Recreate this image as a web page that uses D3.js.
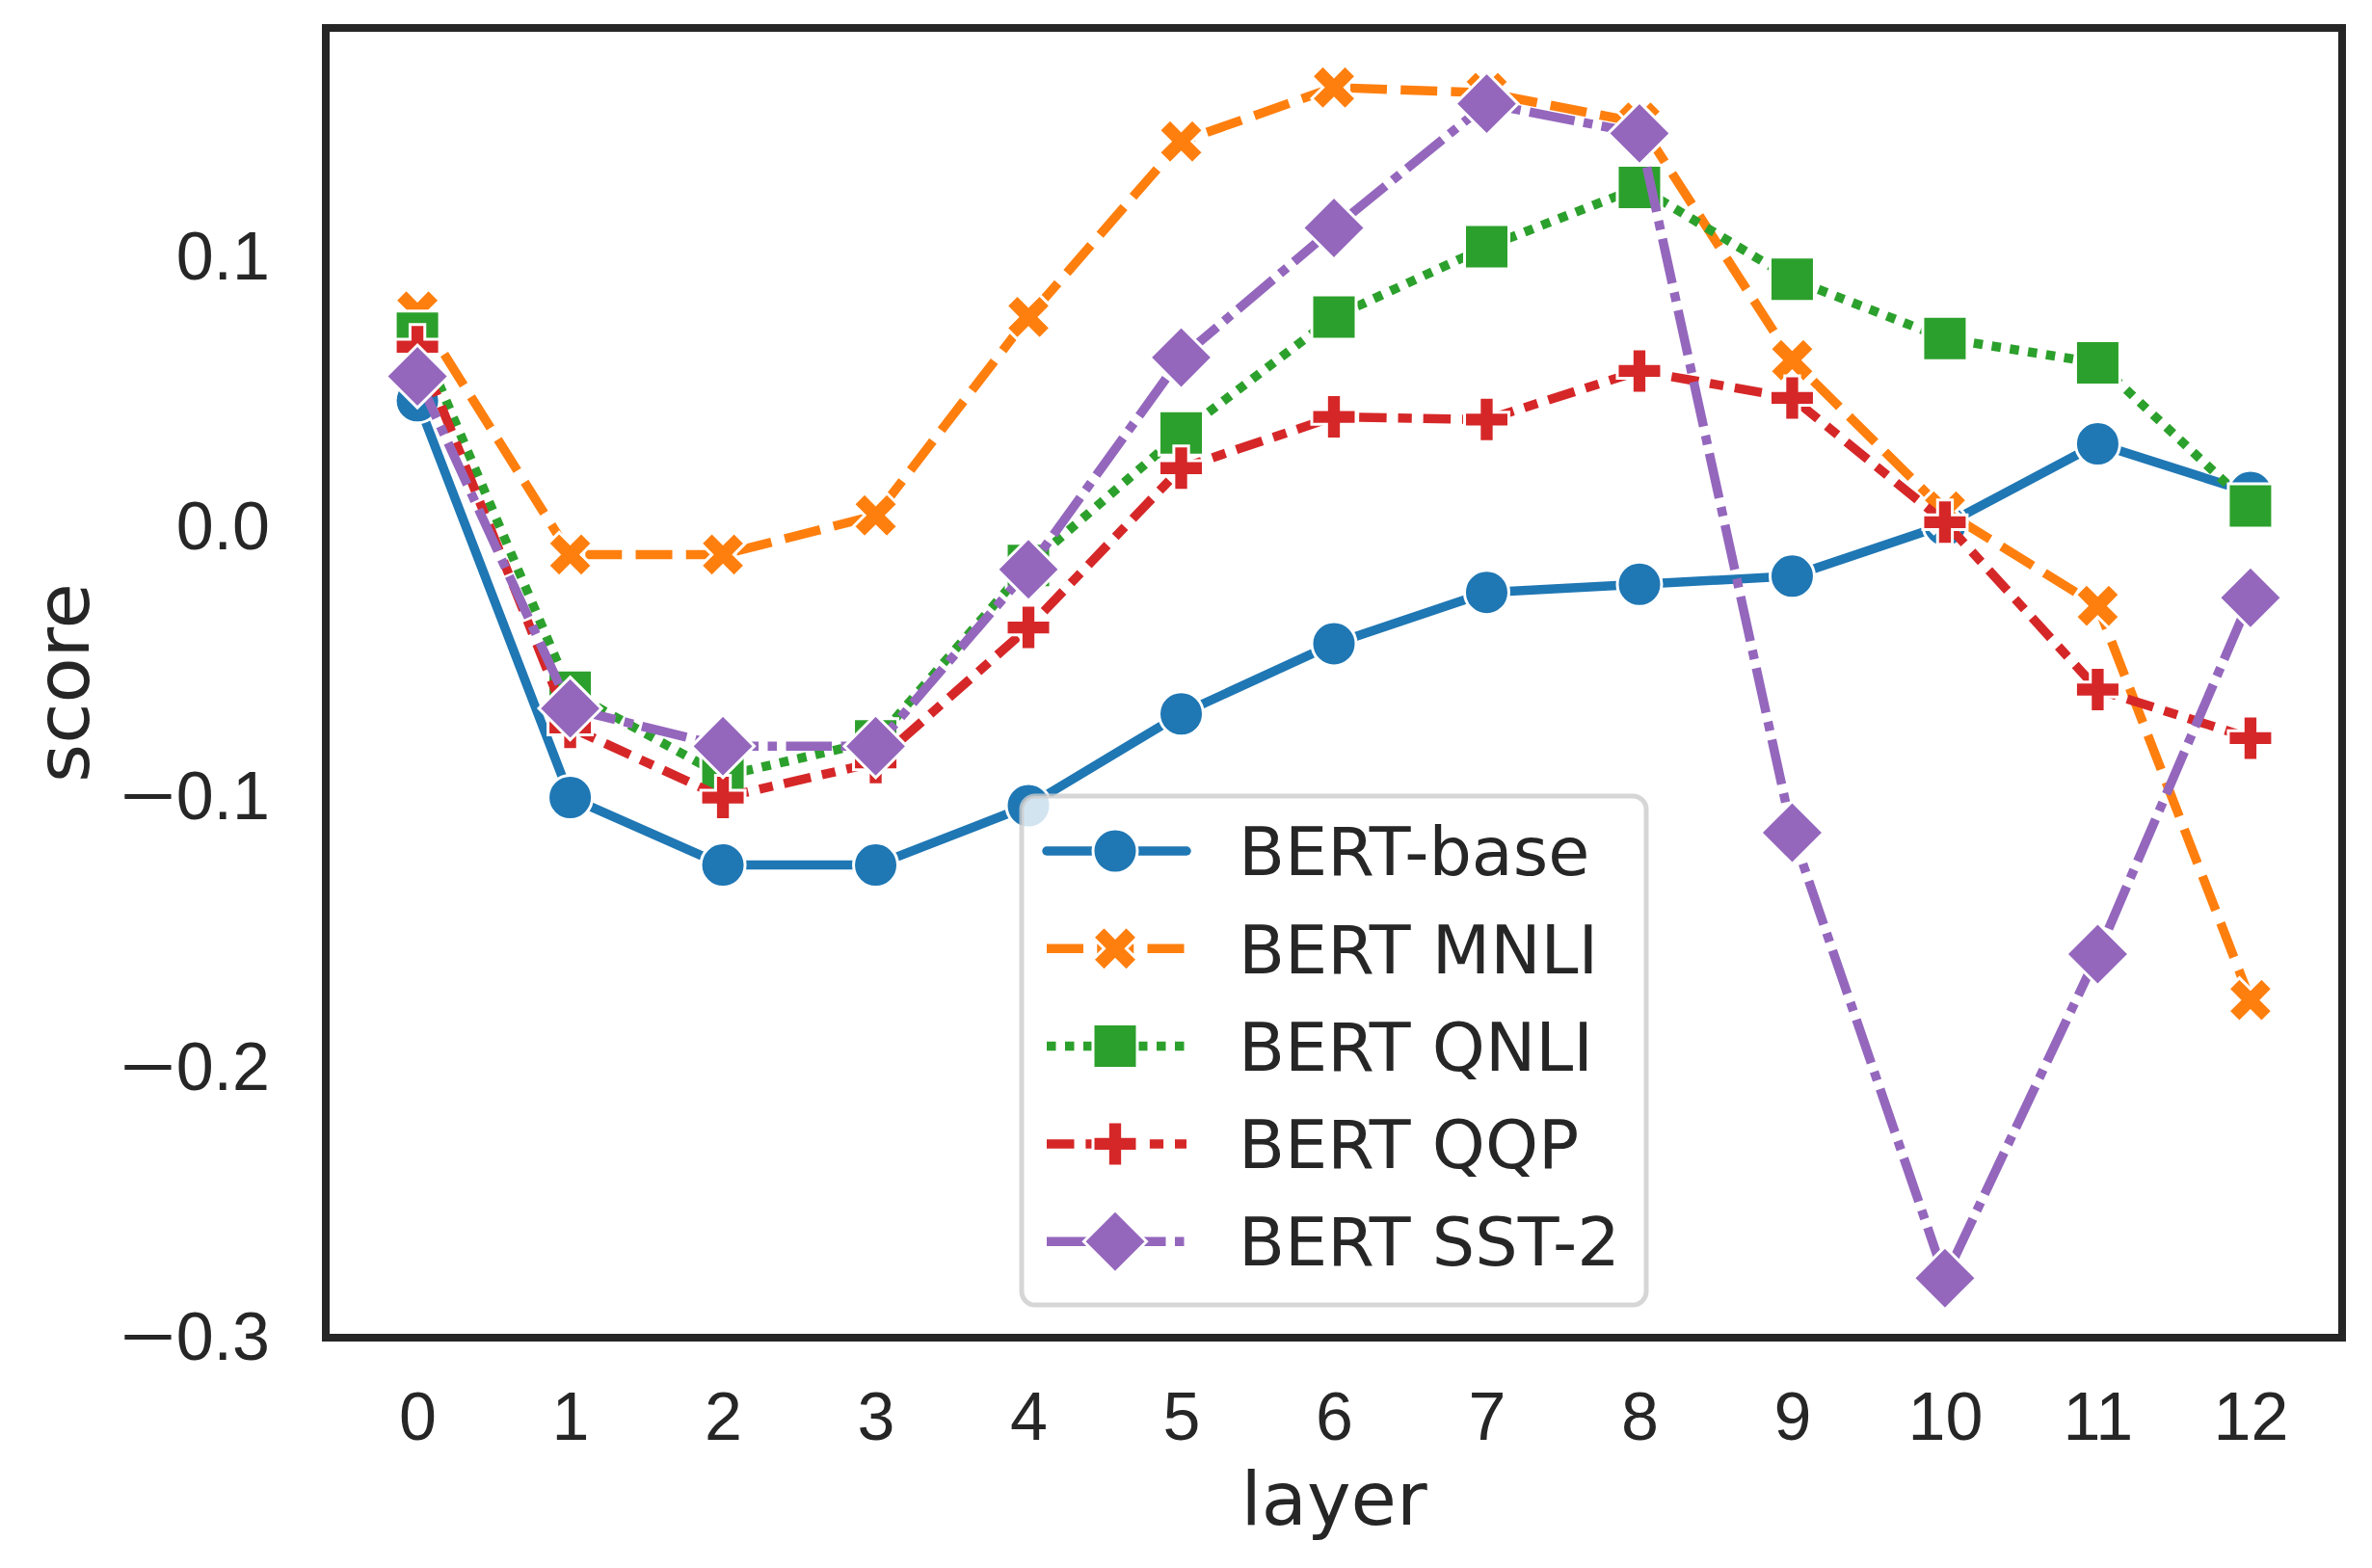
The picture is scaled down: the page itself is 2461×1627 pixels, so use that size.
<!DOCTYPE html>
<html>
<head>
<meta charset="utf-8">
<script src="https://cdn.jsdelivr.net/npm/d3@7"></script>
<style>
  body { margin: 0; background: #fff; }
  svg { display: block; font-family: "DejaVu Sans", sans-serif; }
</style>
</head>
<body>
<svg id="vis" width="2461" height="1627"></svg>
<script>
// values, layer 0..12
const layers = [0, 1, 2, 3, 4, 5, 6, 7, 8, 9, 10, 11, 12];
const seriesNames = ['BERT-base', 'BERT MNLI', 'BERT QNLI', 'BERT QQP', 'BERT SST-2'];
const bertBase = [0.047, -0.100, -0.125, -0.125, -0.103, -0.069, -0.043, -0.024, -0.021, -0.018, 0.001, 0.031, 0.013];
const bertMnli = [0.080, -0.010, -0.010, 0.0045, 0.078, 0.143, 0.163, 0.161, 0.150, 0.062, 0.006, -0.029, -0.175];
const bertQnli = [0.072, -0.061, -0.092, -0.079, -0.014, 0.035, 0.078, 0.104, 0.126, 0.092, 0.070, 0.061, 0.008];
const bertQqp = [0.067, -0.074, -0.100, -0.087, -0.037, 0.022, 0.041, 0.040, 0.058, 0.048, 0.002, -0.060, -0.078];
const bertSst2 = [0.056, -0.067, -0.081, -0.081, -0.0155, 0.063, 0.111, 0.157, 0.146, -0.113, -0.278, -0.158, -0.026];

const colors = ['#1f77b4', '#ff7f0e', '#2ca02c', '#d62728', '#9467bd'];
const markers = ['circle', 'x', 'square', 'plus', 'diamond'];
// seaborn default dash sequence, in units of line width
const dashes = [null, [4, 1.5], [1, 1], [3, 1.25, 1.5, 1.25], [5, 1, 1, 1]];

const series = [bertBase, bertMnli, bertQnli, bertQqp, bertSst2].map((vals, i) => ({
  name: seriesNames[i],
  color: colors[i],
  marker: markers[i],
  dash: dashes[i],
  points: vals.map((v, j) => ({ layer: layers[j], score: v }))
}));

const svg = d3.select('#vis');
const plot = { left: 338, right: 2430, top: 29, bottom: 1388 };
const lineWidth = 9.5;
const markerSize = 46;
const ink = '#262626';

// matplotlib-style 5% margins
const pad = (ext) => { const d = (ext[1] - ext[0]) * 0.05; return [ext[0] - d, ext[1] + d]; };
const allScores = series.flatMap(s => s.points.map(p => p.score));

const x = d3.scaleLinear().domain(pad(d3.extent(layers))).range([plot.left, plot.right]);
const y = d3.scaleLinear().domain(pad(d3.extent(allScores))).range([plot.bottom, plot.top]);

const fmt = d3.format('.1f');

svg.append('g')
  .attr('transform', 'translate(0,' + plot.bottom + ')')
  .call(d3.axisBottom(x).tickValues(layers).tickSize(0).tickPadding(56).tickFormat(d3.format('d')))
  .call(g => g.select('.domain').remove())
  .selectAll('text')
    .attr('fill', ink)
    .style('font-size', '70px');

const yAxis = svg.append('g')
  .attr('transform', 'translate(' + plot.left + ',0)')
  .call(d3.axisLeft(y).ticks(5).tickSize(0).tickPadding(58).tickFormat(fmt))
  .call(g => g.select('.domain').remove());

// matplotlib's minus sign is wider than the one the browser picks
yAxis.selectAll('text')
  .attr('fill', ink)
  .style('font-size', '70px')
  .each(function(d) {
    if (d >= 0) return;
    const t = d3.select(this);
    const digits = fmt(Math.abs(d));
    t.text(null);
    t.append('tspan')
      .attr('textLength', 58)
      .attr('lengthAdjust', 'spacingAndGlyphs')
      .text('\u2212');
    t.append('tspan').text(digits);
  });

svg.append('text')
  .attr('x', (plot.left + plot.right) / 2)
  .attr('y', 1582)
  .attr('text-anchor', 'middle')
  .attr('fill', ink)
  .style('font-size', '77px')
  .text('layer');

svg.append('text')
  .attr('transform', 'translate(92,' + (plot.top + plot.bottom) / 2 + ') rotate(-90)')
  .attr('text-anchor', 'middle')
  .attr('fill', ink)
  .style('font-size', '77px')
  .text('score');

// marker shapes, centred on 0,0, in matplotlib's unit paths
function markerPath(type, s) {
  const poly = pts => 'M' + pts.map(p => [p[0] * s, p[1] * s].join(',')).join('L') + 'Z';
  if (type === 'circle') return d3.symbol(d3.symbolCircle, Math.PI * (s / 2) * (s / 2))();
  if (type === 'square') return poly([[-0.5, -0.5], [0.5, -0.5], [0.5, 0.5], [-0.5, 0.5]]);
  if (type === 'diamond') { const h = Math.SQRT1_2; return poly([[0, -h], [h, 0], [0, h], [-h, 0]]); }
  if (type === 'plus') {
    return poly([[-1, -3], [-1, -1], [-3, -1], [-3, 1], [-1, 1], [-1, 3], [1, 3], [1, 1], [3, 1], [3, -1], [1, -1], [1, -3]].map(p => [p[0] / 6, p[1] / 6]));
  }
  return poly([[-1, -2], [0, -1], [1, -2], [2, -1], [1, 0], [2, 1], [1, 2], [0, 1], [-1, 2], [-2, 1], [-1, 0], [-2, -1]].map(p => [p[0] / 4, p[1] / 4]));
}

const line = d3.line().x(d => x(d.layer)).y(d => y(d.score));

const groups = svg.append('g').selectAll('g.series')
  .data(series)
  .enter()
  .append('g')
    .classed('series', true);

groups.append('path')
  .attr('d', d => line(d.points))
  .attr('fill', 'none')
  .attr('stroke', d => d.color)
  .attr('stroke-width', lineWidth)
  .attr('stroke-linejoin', 'round')
  .attr('stroke-linecap', d => d.dash ? 'butt' : 'round')
  .attr('stroke-dasharray', d => d.dash ? d.dash.map(v => v * lineWidth).join(' ') : null);

groups.selectAll('path.marker')
  .data(d => d.points.map(p => Object.assign({ color: d.color, marker: d.marker }, p)))
  .enter()
  .append('path')
    .classed('marker', true)
    .attr('transform', d => 'translate(' + x(d.layer) + ',' + y(d.score) + ')')
    .attr('d', d => markerPath(d.marker, markerSize))
    .attr('fill', d => d.color)
    .attr('stroke', '#fff')
    .attr('stroke-width', 3);

// frame
svg.append('rect')
  .attr('x', plot.left)
  .attr('y', plot.top)
  .attr('width', plot.right - plot.left)
  .attr('height', plot.bottom - plot.top)
  .attr('fill', 'none')
  .attr('stroke', ink)
  .attr('stroke-width', 8);

// legend
const legend = svg.append('g').attr('transform', 'translate(1060,826)');
legend.append('rect')
  .attr('width', 648)
  .attr('height', 528)
  .attr('rx', 14)
  .attr('fill', '#fff')
  .attr('fill-opacity', 0.8)
  .attr('stroke', '#cccccc')
  .attr('stroke-opacity', 0.8)
  .attr('stroke-width', 5);

const rows = legend.selectAll('g.row')
  .data(series)
  .enter()
  .append('g')
    .classed('row', true)
    .attr('transform', (d, i) => 'translate(0,' + (57 + i * 101.3) + ')');

rows.append('line')
  .attr('x1', 26)
  .attr('x2', 171)
  .attr('stroke', d => d.color)
  .attr('stroke-width', lineWidth)
  .attr('stroke-linecap', d => d.dash ? 'butt' : 'round')
  .attr('stroke-dasharray', d => d.dash ? d.dash.map(v => v * lineWidth).join(' ') : null);

rows.append('path')
  .attr('transform', 'translate(97,0)')
  .attr('d', d => markerPath(d.marker, markerSize))
  .attr('fill', d => d.color)
  .attr('stroke', '#fff')
  .attr('stroke-width', 3);

rows.append('text')
  .attr('x', 225)
  .attr('dy', '0.36em')
  .attr('fill', ink)
  .style('font-size', '70px')
  .text(d => d.name);
</script>
</body>
</html>
